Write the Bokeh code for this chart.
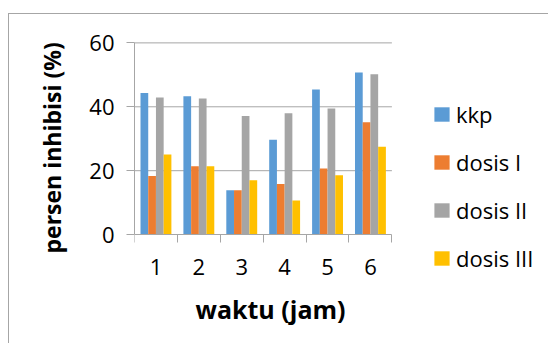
from bokeh.plotting import figure
from bokeh.models import Range1d, FixedTicker, Title
from bokeh.embed import file_html
from bokeh.resources import INLINE

hours = ["1", "2", "3", "4", "5", "6"]
kkp = [44.3, 43.3, 13.9, 29.7, 45.4, 50.7]
dosis1 = [18.3, 21.4, 13.9, 15.8, 20.7, 35.2]
dosis2 = [42.9, 42.6, 37.1, 38.0, 39.5, 50.2]
dosis3 = [25.1, 21.4, 17.0, 10.7, 18.6, 27.5]
series_names = ["kkp", "dosis I", "dosis II", "dosis III"]
series_values = [kkp, dosis1, dosis2, dosis3]
colors = ["#5B9BD5", "#ED7D31", "#A5A5A5", "#FFC000"]
y_ticks = [0, 20, 40, 60]
x_title = "waktu (jam)"
y_title = "persen inhibisi (%)"

FONT = "Open Sans"
GRID = "#a6a6a6"
n = len(hours)

# frame is extended right/below the plot area so legend and labels are not clipped
p = figure(width=540, height=330,
           x_range=Range1d(0, 9.674), y_range=Range1d(-17.5, 62),
           output_backend="svg", toolbar_location=None,
           min_border_left=125, min_border_right=0,
           min_border_top=22, min_border_bottom=54)
p.margin = (13, 0, 0, 8)
p.styles = {"border-left": "1px solid #a6a6a6", "border-top": "1px solid #a6a6a6"}
p.outline_line_color = None
p.background_fill_color = "white"
p.border_fill_color = "white"
p.xgrid.visible = False
p.ygrid.visible = False

# gridlines across the plot area only
grid_y = [t for t in y_ticks if t > 0]
p.segment(x0=[0] * len(grid_y), x1=[n] * len(grid_y), y0=grid_y, y1=grid_y,
          line_color=GRID, line_width=1)

bar_w = 0.18
offsets = [-0.27, -0.09, 0.09, 0.27]
centers = [i + 0.5 for i in range(n)]
for name, vals, col, off in zip(series_names, series_values, colors, offsets):
    p.vbar(x=[c + off for c in centers], top=vals, width=bar_w, bottom=0,
           fill_color=col, line_color=None, legend_label=name)

# x axis at y = 0
xa = p.xaxis[0]
xa.fixed_location = 0
xa.bounds = (0, n)
xa.ticker = FixedTicker(ticks=centers, minor_ticks=list(range(n + 1)))
xa.major_label_overrides = {c: h for c, h in zip(centers, hours)}
xa.major_tick_out = 0
xa.major_tick_in = 0
xa.minor_tick_out = 8
xa.minor_tick_in = 0
xa.minor_tick_line_color = GRID
xa.axis_line_color = GRID
xa.major_label_text_font = FONT
xa.major_label_text_font_size = "22px"
xa.major_label_text_color = "black"
xa.major_label_standoff = 16

ya = p.yaxis[0]
ya.bounds = (0, 60)
ya.ticker = FixedTicker(ticks=y_ticks, minor_ticks=[])
ya.major_tick_out = 8
ya.major_tick_in = 0
ya.major_tick_line_color = GRID
ya.minor_tick_line_color = None
ya.axis_line_color = GRID
ya.major_label_text_font = FONT
ya.major_label_text_font_size = "22px"
ya.major_label_text_color = "black"
ya.major_label_standoff = 12

p.add_layout(Title(text=y_title, align="left", offset=37, standoff=38,
                   text_font=FONT, text_font_size="23px",
                   text_font_style="bold", text_color="black"), "left")
p.add_layout(Title(text=x_title, align="left", offset=61, standoff=-2,
                   text_font=FONT, text_font_size="25px",
                   text_font_style="bold", text_color="black"), "below")

lg = p.legend[0]
lg.location = (298, 17)
lg.orientation = "vertical"
lg.padding = 0
lg.margin = 0
lg.spacing = 18
lg.glyph_width = 19
lg.glyph_height = 18
lg.label_height = 18
lg.label_standoff = 5
lg.border_line_color = None
lg.background_fill_alpha = 0
lg.label_text_font = FONT
lg.label_text_font_size = "22px"
lg.label_text_color = "black"

open("out.html", "w").write(file_html(p, INLINE))
